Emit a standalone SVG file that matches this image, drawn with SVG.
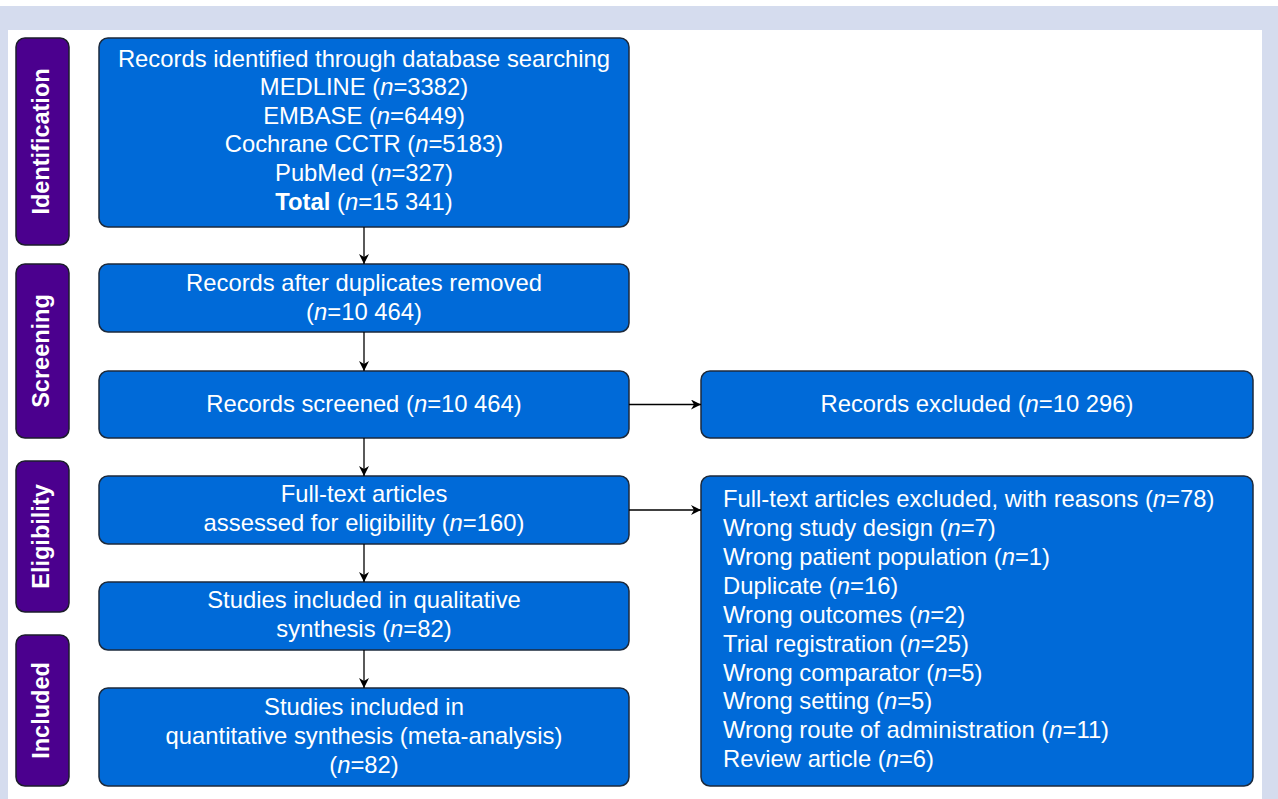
<svg xmlns="http://www.w3.org/2000/svg" width="1278" height="799" viewBox="0 0 1278 799">
<style>
.bg{fill:#d5dcee}
.panel{fill:#ffffff}
.box{fill:#006ad8;stroke:#1c2a3c;stroke-width:1.5}
.side{fill:#4b008e;stroke:#1c1c2c;stroke-width:1.5}
.t{font-family:"Liberation Sans",Arial,sans-serif;font-size:23.8px;fill:#ffffff}
.c{text-anchor:middle}
.s{font-family:"Liberation Sans",Arial,sans-serif;font-size:23.5px;font-weight:bold;fill:#ffffff;text-anchor:middle}
.ln{stroke:#000000;stroke-width:1.3;fill:none;marker-end:url(#ah)}
</style>
<defs>
<marker id="ah" viewBox="0 0 10 10" refX="10" refY="5" markerWidth="10" markerHeight="10" markerUnits="userSpaceOnUse" orient="auto">
<path d="M0,0 L10,5 L0,10 L3,5 Z" fill="#000"/>
</marker>
</defs>
<rect x="0" y="0" width="1278" height="799" fill="#ffffff"/>
<rect class="bg" x="0" y="6" width="1278" height="793"/>
<rect class="panel" x="8" y="30" width="1254" height="769"/>

<g id="side-identification"><rect class="side" x="16" y="38" width="53" height="207" rx="9"/><text class="s" transform="translate(49,141.5) rotate(-90)">Identification</text></g>
<g id="side-screening"><rect class="side" x="16" y="264" width="53" height="174" rx="9"/><text class="s" transform="translate(49,351) rotate(-90)">Screening</text></g>
<g id="side-eligibility"><rect class="side" x="16" y="461" width="53" height="151" rx="9"/><text class="s" transform="translate(49,536.5) rotate(-90)">Eligibility</text></g>
<g id="side-included"><rect class="side" x="16" y="635" width="53" height="151" rx="9"/><text class="s" transform="translate(49,710.5) rotate(-90)">Included</text></g>

<g id="identified"><rect class="box" x="99" y="38" width="530" height="189" rx="9"/>
<text class="t c" x="364" y="67">Records identified through database searching</text>
<text class="t c" x="364" y="95">MEDLINE (<tspan font-style="italic">n</tspan>=3382)</text>
<text class="t c" x="364" y="124">EMBASE (<tspan font-style="italic">n</tspan>=6449)</text>
<text class="t c" x="364" y="152">Cochrane CCTR (<tspan font-style="italic">n</tspan>=5183)</text>
<text class="t c" x="364" y="181">PubMed (<tspan font-style="italic">n</tspan>=327)</text>
<text class="t c" x="364" y="210"><tspan font-weight="bold">Total</tspan> (<tspan font-style="italic">n</tspan>=15 341)</text>
</g>
<g id="duplicates"><rect class="box" x="99" y="264" width="530" height="68" rx="9"/>
<text class="t c" x="364" y="291">Records after duplicates removed</text>
<text class="t c" x="364" y="320">(<tspan font-style="italic">n</tspan>=10 464)</text>
</g>
<g id="screened"><rect class="box" x="99" y="371" width="530" height="67" rx="9"/>
<text class="t c" x="364" y="412">Records screened (<tspan font-style="italic">n</tspan>=10 464)</text>
</g>
<g id="excluded"><rect class="box" x="701" y="371" width="552" height="67" rx="9"/>
<text class="t c" x="977" y="412">Records excluded (<tspan font-style="italic">n</tspan>=10 296)</text>
</g>
<g id="fulltext"><rect class="box" x="99" y="476" width="530" height="68" rx="9"/>
<text class="t c" x="364" y="502">Full-text articles</text>
<text class="t c" x="364" y="531">assessed for eligibility (<tspan font-style="italic">n</tspan>=160)</text>
</g>
<g id="fulltext-excluded"><rect class="box" x="701" y="476" width="552" height="310" rx="9"/>
<text class="t" x="723" y="507">Full-text articles excluded, with reasons (<tspan font-style="italic">n</tspan>=78)</text>
<text class="t" x="723" y="536">Wrong study design (<tspan font-style="italic">n</tspan>=7)</text>
<text class="t" x="723" y="565">Wrong patient population (<tspan font-style="italic">n</tspan>=1)</text>
<text class="t" x="723" y="594">Duplicate (<tspan font-style="italic">n</tspan>=16)</text>
<text class="t" x="723" y="623">Wrong outcomes (<tspan font-style="italic">n</tspan>=2)</text>
<text class="t" x="723" y="652">Trial registration (<tspan font-style="italic">n</tspan>=25)</text>
<text class="t" x="723" y="681">Wrong comparator (<tspan font-style="italic">n</tspan>=5)</text>
<text class="t" x="723" y="709">Wrong setting (<tspan font-style="italic">n</tspan>=5)</text>
<text class="t" x="723" y="738">Wrong route of administration (<tspan font-style="italic">n</tspan>=11)</text>
<text class="t" x="723" y="767">Review article (<tspan font-style="italic">n</tspan>=6)</text>
</g>
<g id="qualitative"><rect class="box" x="99" y="582" width="530" height="68" rx="9"/>
<text class="t c" x="364" y="608">Studies included in qualitative</text>
<text class="t c" x="364" y="637">synthesis (<tspan font-style="italic">n</tspan>=82)</text>
</g>
<g id="quantitative"><rect class="box" x="99" y="688" width="530" height="98" rx="9"/>
<text class="t c" x="364" y="715">Studies included in</text>
<text class="t c" x="364" y="744">quantitative synthesis (meta-analysis)</text>
<text class="t c" x="364" y="773">(<tspan font-style="italic">n</tspan>=82)</text>
</g>

<g id="connectors">
<line class="ln" x1="364" y1="227" x2="364" y2="264"/>
<line class="ln" x1="364" y1="332" x2="364" y2="371"/>
<line class="ln" x1="364" y1="438" x2="364" y2="476"/>
<line class="ln" x1="364" y1="544" x2="364" y2="582"/>
<line class="ln" x1="364" y1="650" x2="364" y2="688"/>
<line class="ln" x1="629" y1="404.5" x2="701" y2="404.5"/>
<line class="ln" x1="629" y1="510" x2="701" y2="510"/>
</g>
</svg>
